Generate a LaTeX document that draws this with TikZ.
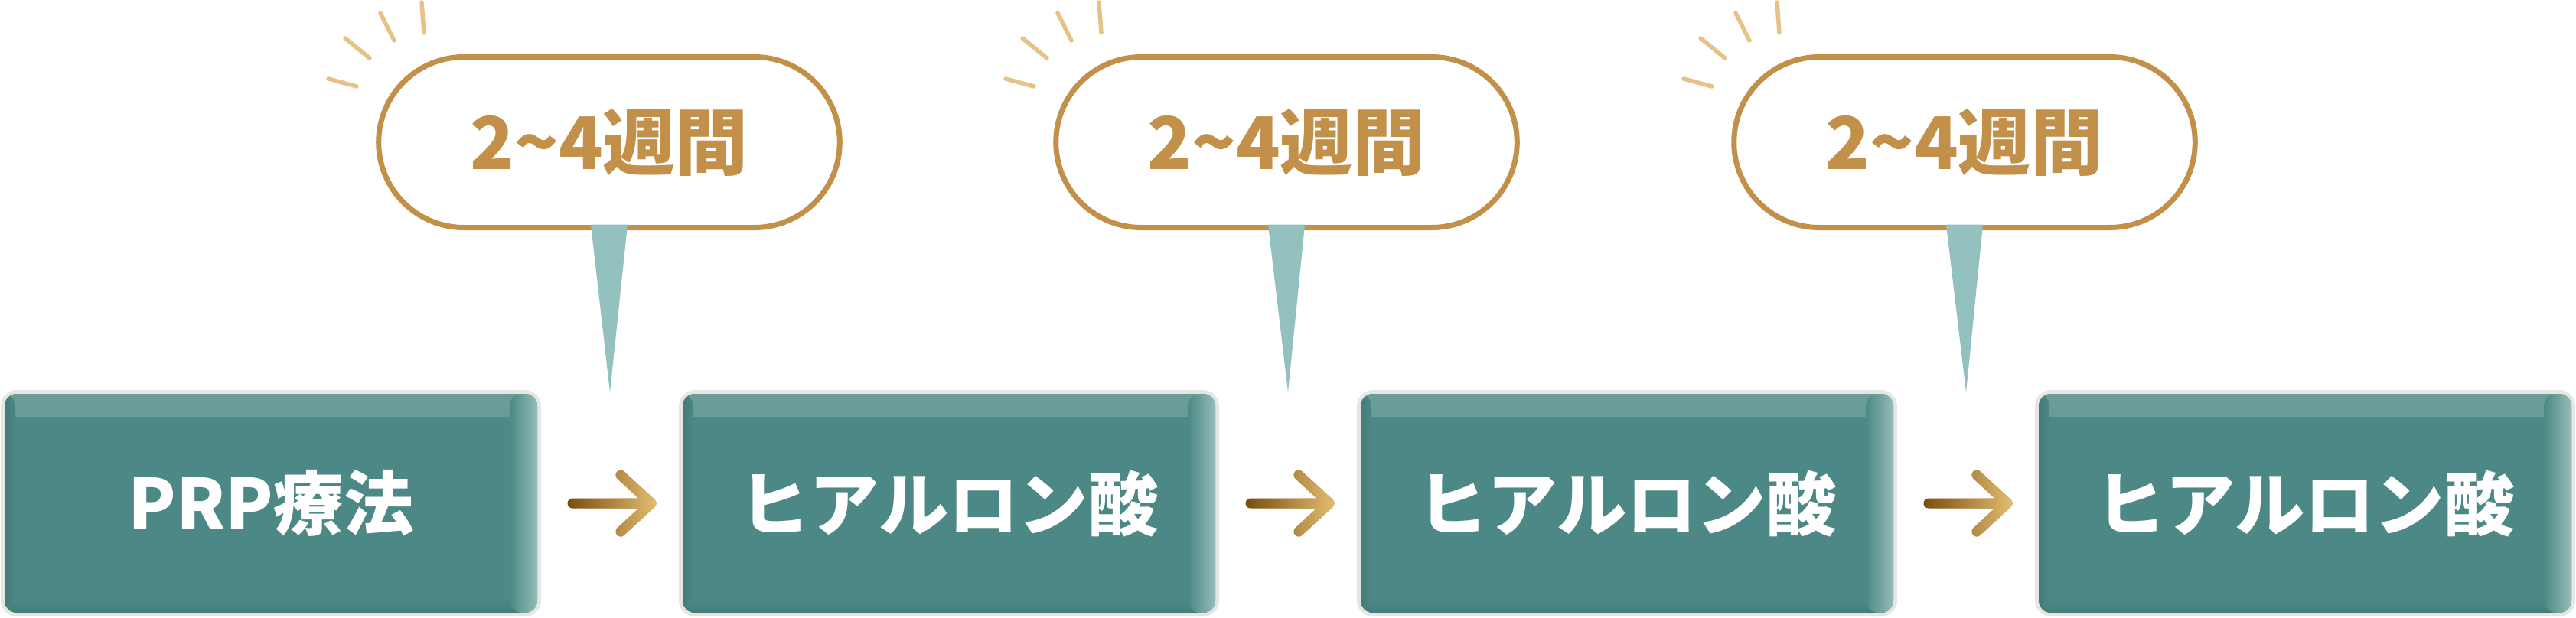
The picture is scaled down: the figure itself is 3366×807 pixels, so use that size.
\documentclass[tikz,border=0pt]{standalone}
\usepackage{fontspec}
\newfontfamily\jpfont{Noto Sans CJK JP}
\usetikzlibrary{shapes.misc,calc,fadings}

\definecolor{boxteal}{HTML}{4C8885}
\definecolor{boxtop}{HTML}{6A9D9A}
\definecolor{boxedge}{HTML}{95BCBA}
\definecolor{boxdark}{HTML}{437C7A}
\definecolor{rimgray}{HTML}{E6E6E4}
\definecolor{gold}{HTML}{C3904A}
\definecolor{sparkgold}{HTML}{E6C288}
\definecolor{tailteal}{HTML}{93C1C0}
\definecolor{arrowdark}{HTML}{7A4D0D}
\definecolor{arrowlight}{HTML}{E3BE72}

\tikzfading[name=fade in east, left color=transparent!100, right color=transparent!0]

\tikzset{
  stepbox/.style={rectangle, rounded corners=1.6mm, minimum width=69.6mm,
    minimum height=28.6mm, outer sep=0pt, fill=boxteal, text=white,
    font=\jpfont\bfseries\fontsize{26}{30}\selectfont,
    preaction={draw=rimgray, line width=1mm},
    path picture={
      \shade[top color=boxtop, bottom color=boxtop!70!boxteal]
        (path picture bounding box.north west) rectangle
        ($(path picture bounding box.north east)+(0,30)$);
      \shade[left color=boxdark, right color=boxteal]
        (path picture bounding box.north west) rectangle
        ($(path picture bounding box.south west)+(14,0)$);
      \shade[top color=boxteal, bottom color=boxdark]
        ($(path picture bounding box.south west)+(0,-16)$) rectangle
        (path picture bounding box.south east);
      \shade[left color=boxteal, right color=boxedge]
        ($(path picture bounding box.north east)+(-36,0)$) rectangle
        (path picture bounding box.south east);
    }},
  bubble/.style={rounded rectangle, draw=gold, line width=0.7mm, fill=white,
    minimum width=62.6mm, minimum height=22.3mm, outer sep=0pt, text=gold,
    font=\jpfont\bfseries\fontsize{27}{30}\selectfont},
  spark/.style={sparkgold, line width=0.55mm, line cap=round},
  arrowline/.style={line width=1.3mm, line cap=round, line join=round}
}

% arrow between two boxes
\newcommand\steparrow[2]{%
  \draw[arrowline, draw=arrowdark] ($(#1.east)+(46,0)$)
    -- ($(#2.west)+(-41,0)$) coordinate (tip) -- ++(-40,-37) (tip) -- ++(-40,37);
  \draw[arrowline, draw=arrowlight, path fading=fade in east] ($(#1.east)+(46,0)$)
    -- ($(#2.west)+(-41,0)$) coordinate (tip) -- ++(-40,-37) (tip) -- ++(-40,37);
}

\begin{document}
\begin{tikzpicture}[x=0.1mm, y=-0.1mm]
  \useasboundingbox (0,0) rectangle (3366,807);

  \node[stepbox] (b1) at (354,658) {PRP療法};
  \node[stepbox] (b2) at (1240,658) {ヒアルロン酸};
  \node[stepbox] (b3) at (2126,658) {ヒアルロン酸};
  \node[stepbox] (b4) at (3012,658) {ヒアルロン酸};

  \steparrow{b1}{b2}
  \steparrow{b2}{b3}
  \steparrow{b3}{b4}

  \foreach \i/\j/\x in {1/2/796, 2/3/1681, 3/4/2567} {
    \node[bubble] (w\i) at (\x,186) {2\textasciitilde 4週間};
    \coordinate (t\i) at ($(b\i.north east)!0.5!(b\j.north west)+(0,-2)$);
    \fill[tailteal] ($(w\i.south)+(-24,-4)$) -- ($(w\i.south)+(24,-4)$) -- (t\i) -- cycle;
    \begin{scope}[shift={(w\i.center)}]
      \draw[spark] (-245,-183) -- (-242,-143);
      \draw[spark] (-299,-169) -- (-281,-133);
      \draw[spark] (-345,-136) -- (-313,-110);
      \draw[spark] (-367,-83) -- (-330,-73);
    \end{scope}
  }
\end{tikzpicture}
\end{document}
